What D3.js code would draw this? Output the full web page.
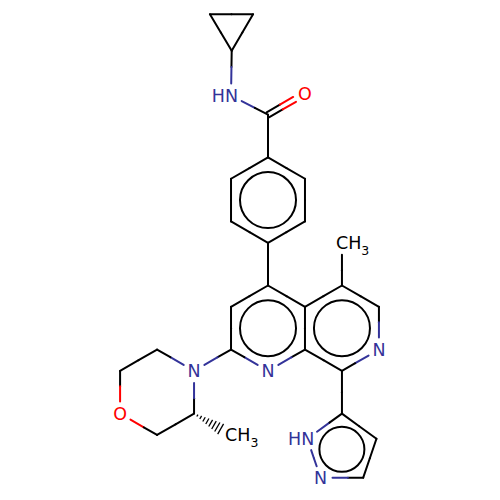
<!DOCTYPE html>
<html>
<head>
<meta charset="utf-8">
<script src="https://cdn.jsdelivr.net/npm/d3@7"></script>
<style>
  html, body { margin: 0; padding: 0; background: #fff; }
  svg { display: block; }
  text { font-family: "DejaVu Sans", sans-serif; }
</style>
</head>
<body>
<svg id="chart" width="500" height="500"></svg>
<script>
// atom table, coordinates in bond lengths, origin on the ring carbon at the biaryl link
const atomX = [-1.36, -0.35, -0.85, -0.866, 0, 0.866,
  0, 0.866, 0.866, 0, -0.866, -0.866,
  0, 0.866, 0.866, 0, -0.866, -0.866,
  1.732, 1.732, 2.598, 2.598, 1.732,
  1.732, 2.54, 2.23, 1.23, 0.92,
  -1.732, -2.598, -3.464, -3.464, -2.598, -1.732, -0.866];
const atomY = [6.35, 6.35, 5.5, 4.45, 4, 4.5,
  3, 2.5, 1.5, 1, 1.5, 2.5,
  0, -0.5, -1.5, -2, -1.5, -0.5,
  0, 1, -0.5, -1.5, -2,
  -3, -3.59, -4.5, -4.5, -3.59,
  -2, -1.5, -2, -3, -3.5, -3, -3.5];
const atomLabel = ['', '', '', 'HN', '', 'O',
  '', '', '', '', '', '',
  '', '', '', 'N', '', '',
  '', 'CH3', '', 'N', '',
  '', '', '', 'N', 'HN',
  'N', '', '', 'O', '', '', 'CH3'];

// bonds as atom index pairs
const singleBonds = [[0, 1], [1, 2], [2, 0], [2, 3], [3, 4], [4, 6],
  [6, 7], [7, 8], [8, 9], [9, 10], [10, 11], [11, 6], [9, 12],
  [12, 13], [13, 14], [14, 15], [15, 16], [16, 17], [17, 12],
  [13, 18], [18, 19], [18, 20], [20, 21], [21, 22], [22, 14],
  [22, 23], [23, 24], [24, 25], [25, 26], [26, 27], [27, 23],
  [16, 28], [28, 29], [29, 30], [30, 31], [31, 32], [32, 33], [33, 28]];
const doubleBonds = [[4, 5]];
const hashBonds = [[33, 34]];

// aromatic rings: atoms on the ring, circle radius in bond lengths
const ringAtoms = [[6, 7, 8, 9, 10, 11], [12, 13, 14, 15, 16, 17], [13, 18, 20, 21, 22, 14], [23, 24, 25, 26, 27]];
const ringRadius = [0.656, 0.656, 0.656, 0.527];

const x = d3.scaleLinear().domain([0, 1]).range([268, 310.7]);
const y = d3.scaleLinear().domain([0, 1]).range([285.5, 242.8]);

const COLORS = { N: '#333399', O: '#ff0000', C: '#000000' };
const TRIM = 12;
const svg = d3.select('#chart');

function element(i) {
  const l = atomLabel[i];
  if (l.includes('N')) return 'N';
  if (l === 'O') return 'O';
  return 'C';
}

// end points of a bond, pulled back from any labelled atom
function trimmed(a, b) {
  const x1 = x(atomX[a]), y1 = y(atomY[a]), x2 = x(atomX[b]), y2 = y(atomY[b]);
  const len = Math.hypot(x2 - x1, y2 - y1);
  const ux = (x2 - x1) / len, uy = (y2 - y1) / len;
  const s = atomLabel[a] ? TRIM : 0, e = atomLabel[b] ? TRIM : 0;
  return { x1: x1 + ux * s, y1: y1 + uy * s, x2: x2 - ux * e, y2: y2 - uy * e, nx: -uy, ny: ux };
}

// one bond becomes two segments split at the middle, each in its atom's colour
function halves(pair, offset) {
  const [a, b] = pair;
  const t = trimmed(a, b);
  const dx = t.nx * offset, dy = t.ny * offset;
  const mx = (t.x1 + t.x2) / 2, my = (t.y1 + t.y2) / 2;
  return [
    { x1: t.x1 + dx, y1: t.y1 + dy, x2: mx + dx, y2: my + dy, c: COLORS[element(a)] },
    { x1: mx + dx, y1: my + dy, x2: t.x2 + dx, y2: t.y2 + dy, c: COLORS[element(b)] }
  ];
}

const segs = singleBonds.flatMap(p => halves(p, 0))
  .concat(doubleBonds.flatMap(p => halves(p, 2.8).concat(halves(p, -2.8))));

svg.append('g').selectAll('line').data(segs).join('line')
  .attr('x1', d => d.x1).attr('y1', d => d.y1)
  .attr('x2', d => d.x2).attr('y2', d => d.y2)
  .attr('stroke', d => d.c)
  .attr('stroke-width', 2)
  .attr('stroke-linecap', 'round');

// aromatic circles
svg.append('g').selectAll('circle').data(ringAtoms).join('circle')
  .attr('cx', d => x(d3.mean(d, i => atomX[i])))
  .attr('cy', d => y(d3.mean(d, i => atomY[i])))
  .attr('r', (d, i) => x(ringRadius[i]) - x(0))
  .attr('fill', 'none')
  .attr('stroke', '#000')
  .attr('stroke-width', 2);

// stereo hash, ticks widen towards the methyl
hashBonds.forEach(([a, b]) => {
  const t = trimmed(a, b);
  const ticks = d3.range(0, 9).map(k => k / 8);
  svg.append('g').selectAll('line').data(ticks).join('line')
    .attr('x1', f => t.x1 + (t.x2 - t.x1) * f + t.nx * (0.4 + 5.5 * f))
    .attr('y1', f => t.y1 + (t.y2 - t.y1) * f + t.ny * (0.4 + 5.5 * f))
    .attr('x2', f => t.x1 + (t.x2 - t.x1) * f - t.nx * (0.4 + 5.5 * f))
    .attr('y2', f => t.y1 + (t.y2 - t.y1) * f - t.ny * (0.4 + 5.5 * f))
    .attr('stroke', '#000')
    .attr('stroke-width', 1.3);
});

// atom labels
const labelled = d3.range(atomLabel.length).filter(i => atomLabel[i]);
const labels = svg.append('g').selectAll('text').data(labelled).join('text')
  .attr('x', i => {
    const l = atomLabel[i];
    if (l === 'HN') return x(atomX[i]) + 7;
    if (l === 'CH3') return x(atomX[i]) - 6;
    return x(atomX[i]);
  })
  .attr('y', i => y(atomY[i]) + 6.5)
  .attr('text-anchor', i => atomLabel[i] === 'HN' ? 'end' : atomLabel[i] === 'CH3' ? 'start' : 'middle')
  .attr('font-size', 17.5)
  .attr('fill', i => COLORS[element(i)]);

labels.each(function (i) {
  const l = atomLabel[i], t = d3.select(this);
  if (l === 'CH3') {
    t.append('tspan').text('CH');
    t.append('tspan').attr('font-size', 12.5).attr('dy', 6).text('3');
  } else {
    t.text(l);
  }
});
</script>
</body>
</html>
